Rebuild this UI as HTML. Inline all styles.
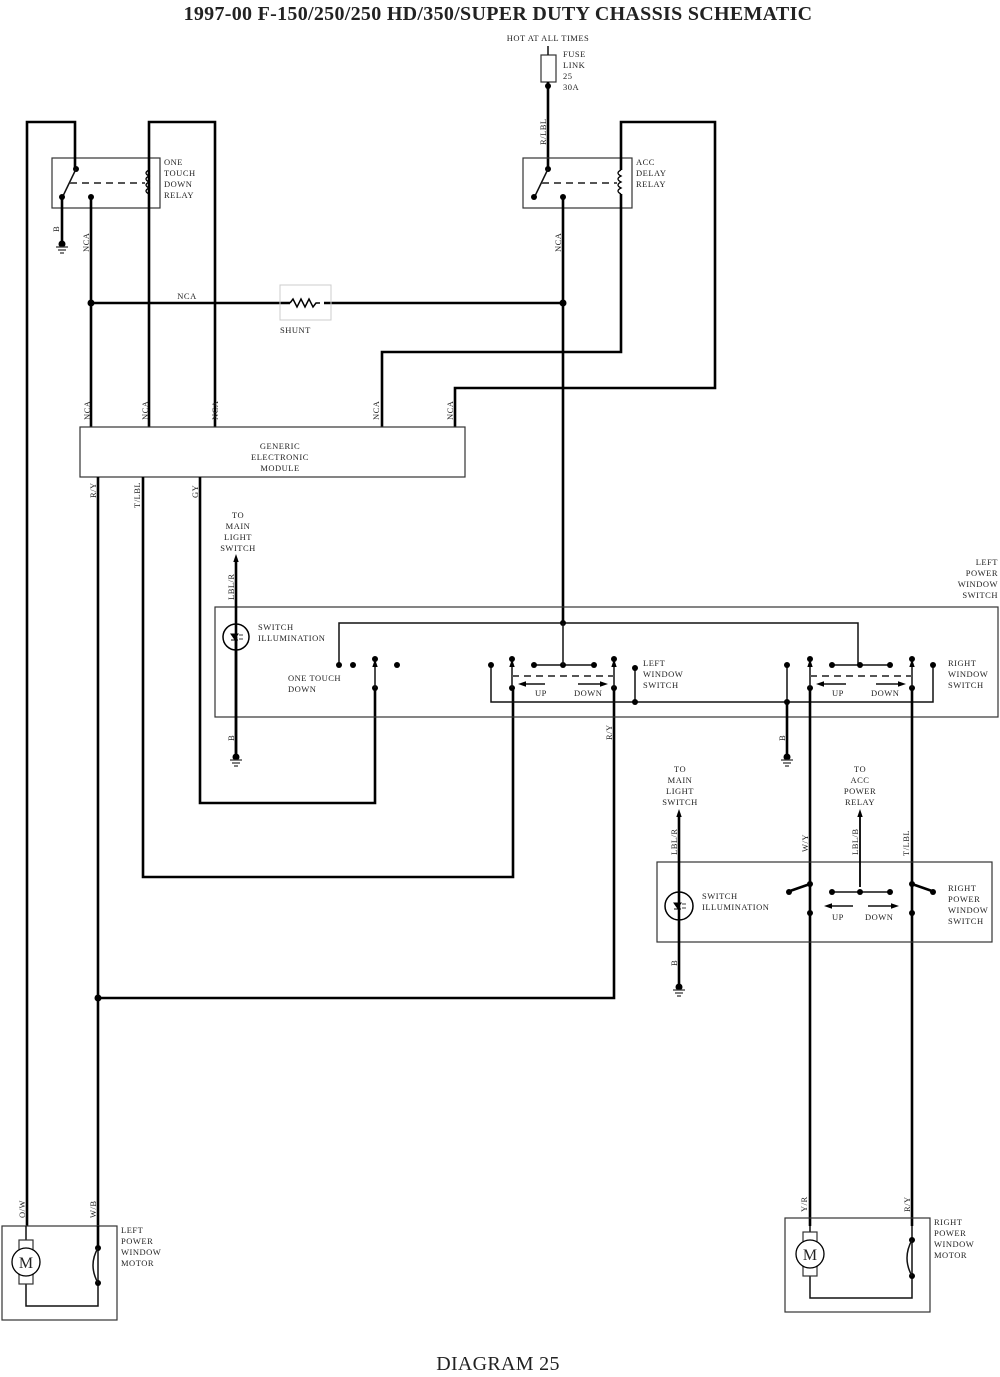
<!DOCTYPE html>
<html><head><meta charset="utf-8"><style>
html,body{margin:0;padding:0;background:#fff}
svg{display:block}
text{font-family:"Liberation Serif",serif;font-size:8.5px;fill:#222;letter-spacing:0.5px}
.w{stroke:#000;stroke-width:2.6;fill:none}
.t{stroke:#111;stroke-width:1.5;fill:none}
.b{stroke:#333;stroke-width:1.2;fill:none}
.d{stroke:#555;stroke-width:2;stroke-dasharray:7,5;fill:none}
</style></head><body>
<svg width="1000" height="1377" viewBox="0 0 1000 1377" xmlns="http://www.w3.org/2000/svg">
<defs>
<marker id="ar" markerUnits="userSpaceOnUse" markerWidth="8" markerHeight="8" refX="4" refY="4" orient="auto"><path d="M0,1.3 L8,4 L0,6.7Z" fill="#000"/></marker>
</defs>
<text x="498" y="20" text-anchor="middle" style="font-size:20px;font-weight:bold;letter-spacing:0.3px">1997-00 F-150/250/250 HD/350/SUPER DUTY CHASSIS SCHEMATIC</text>
<text x="498" y="1370" text-anchor="middle" style="font-size:20px;letter-spacing:0.3px">DIAGRAM 25</text>

<!-- fuse -->
<text x="548" y="41" text-anchor="middle">HOT AT ALL TIMES</text>
<rect x="541" y="55" width="15" height="27" class="b"/>
<line x1="548" y1="46" x2="548" y2="55" class="t"/>
<text x="563" y="57">FUSE</text><text x="563" y="68">LINK</text><text x="563" y="79">25</text><text x="563" y="90">30A</text>
<path d="M548,82 V168" class="w"/><circle cx="548" cy="86" r="3"/>
<text transform="translate(546,145) rotate(-90)">R/LBL</text>

<!-- left relay -->
<rect x="52" y="158" width="108" height="50" class="b"/>
<text x="164" y="165">ONE</text><text x="164" y="176">TOUCH</text><text x="164" y="187">DOWN</text><text x="164" y="198">RELAY</text>
<path d="M27,1226 V122 H75 V168" class="w"/>
<circle cx="76" cy="169" r="3"/><line x1="76" y1="169" x2="63" y2="196" class="t"/>
<circle cx="62" cy="197" r="3"/><circle cx="91" cy="197" r="3"/>
<line x1="70" y1="183" x2="145" y2="183" class="d"/>
<path d="M62,197 V244" class="w"/>
<circle cx="62" cy="244" r="3.5"/><path d="M56,247 H68 M58,250 H66 M60,253 H64" class="b"/>
<text transform="translate(59,232) rotate(-90)">B</text>
<text transform="translate(89,252) rotate(-90)">NCA</text>
<path d="M91,197 V427" class="w"/>
<path d="M149,427 V122 H215 V427" class="w"/>
<path d="M149,170 q-6,3 0,6 q-6,3 0,6 q-6,3 0,6 q-6,3 0,6" stroke="#000" stroke-width="1.3" fill="none"/>

<!-- right relay -->
<rect x="523" y="158" width="109" height="50" class="b"/>
<text x="636" y="165">ACC</text><text x="636" y="176">DELAY</text><text x="636" y="187">RELAY</text>
<circle cx="548" cy="169" r="3"/><line x1="548" y1="169" x2="535" y2="196" class="t"/>
<circle cx="534" cy="197" r="3"/><circle cx="563" cy="197" r="3"/>
<line x1="542" y1="183" x2="617" y2="183" class="d"/>
<path d="M621,170 q-6,3 0,6 q-6,3 0,6 q-6,3 0,6 q-6,3 0,6" stroke="#000" stroke-width="1.3" fill="none"/>
<path d="M621,170 V122 H715 V388 H455 V427" class="w"/>
<path d="M621,194 V352 H382 V427" class="w"/>
<text transform="translate(561,252) rotate(-90)">NCA</text>
<path d="M563,197 V623" class="w"/>

<!-- NCA bus + shunt -->
<path d="M91,303 H290 M324,303 H563" class="w"/>
<circle cx="91" cy="303" r="3.5"/><circle cx="563" cy="303" r="3.5"/>
<text x="187" y="299" text-anchor="middle">NCA</text>
<rect x="280" y="285" width="51" height="35" stroke="#ccc" stroke-width="1" fill="none"/>
<path d="M290,303 l3,-4 l4,8 l4,-8 l4,8 l4,-8 l4,8 l3,-4 h4" stroke="#000" stroke-width="1.5" fill="none"/>
<text x="280" y="333">SHUNT</text>

<!-- module -->
<rect x="80" y="427" width="385" height="50" class="b"/>
<text x="280" y="449" text-anchor="middle">GENERIC</text><text x="280" y="460" text-anchor="middle">ELECTRONIC</text><text x="280" y="471" text-anchor="middle">MODULE</text>
<text transform="translate(90,420) rotate(-90)">NCA</text>
<text transform="translate(148,420) rotate(-90)">NCA</text>
<text transform="translate(218,420) rotate(-90)">NCA</text>
<text transform="translate(379,420) rotate(-90)">NCA</text>
<text transform="translate(453,420) rotate(-90)">NCA</text>
<text transform="translate(96,498) rotate(-90)">R/Y</text>
<text transform="translate(140,508) rotate(-90)">T/LBL</text>
<text transform="translate(198,498) rotate(-90)">GY</text>
<path d="M98,477 V1226" class="w"/>
<path d="M143,477 V877 H513 V690" class="w"/>
<path d="M200,477 V803 H375 V688" class="w"/>
<path d="M614,690 V998 H98" class="w"/><circle cx="98" cy="998" r="3.5"/>
<text transform="translate(612,740) rotate(-90)">R/Y</text>

<!-- left power window switch -->
<text x="998" y="565" text-anchor="end">LEFT</text><text x="998" y="576" text-anchor="end">POWER</text><text x="998" y="587" text-anchor="end">WINDOW</text><text x="998" y="598" text-anchor="end">SWITCH</text>
<rect x="215" y="607" width="783" height="110" class="b"/>
<text x="238" y="518" text-anchor="middle">TO</text><text x="238" y="529" text-anchor="middle">MAIN</text><text x="238" y="540" text-anchor="middle">LIGHT</text><text x="238" y="551" text-anchor="middle">SWITCH</text>
<path d="M236,757 V558" class="w" marker-end="url(#ar)"/>
<text transform="translate(234,600) rotate(-90)">LBL/R</text>
<circle cx="236" cy="637" r="13" fill="#fff" stroke="#000" stroke-width="1.5"/>
<path d="M236,637 V757" class="w"/><path d="M236,624 V650" class="w"/>
<path d="M231,634 h7 l-3.5,5z M231,640 h7" stroke="#000" stroke-width="1" fill="#000"/>
<path d="M239,635 h4 M239,639 h4" stroke="#000" stroke-width="0.8"/>
<circle cx="236" cy="757" r="3.5"/><path d="M230,760 H242 M232,763 H240 M234,766 H238" class="b"/>
<text transform="translate(234,741) rotate(-90)">B</text>
<text x="258" y="630">SWITCH</text><text x="258" y="641">ILLUMINATION</text>
<path d="M339,665 V623 H858 V665" class="t"/>
<circle cx="563" cy="623" r="3"/>
<circle cx="339" cy="665" r="3"/><circle cx="353" cy="665" r="3"/><circle cx="397" cy="665" r="3"/>
<circle cx="375" cy="659" r="3"/><circle cx="375" cy="688" r="3"/><path d="M375,688 V663" class="t" marker-end="url(#ar)"/>
<text x="288" y="681">ONE TOUCH</text><text x="288" y="692">DOWN</text>
<!-- left window switch -->
<path d="M491,665 V702 H933 V665" class="t"/>
<circle cx="491" cy="665" r="3"/><circle cx="933" cy="665" r="3"/>
<circle cx="512" cy="659" r="3"/><circle cx="512" cy="688" r="3"/><path d="M512,688 V663" class="t" marker-end="url(#ar)"/>
<path d="M534,665 H594" class="t"/><circle cx="534" cy="665" r="3"/><circle cx="563" cy="665" r="3"/><circle cx="594" cy="665" r="3"/>
<path d="M563,623 V665" class="t"/>
<circle cx="614" cy="659" r="3"/><circle cx="614" cy="688" r="3"/><path d="M614,688 V663" class="t" marker-end="url(#ar)"/>
<path d="M635,668 V702" class="t"/><circle cx="635" cy="668" r="3"/><circle cx="635" cy="702" r="3"/>
<line x1="512" y1="676" x2="614" y2="676" class="d"/>
<path d="M545,684 H522" class="t" marker-end="url(#ar)"/><path d="M578,684 H604" class="t" marker-end="url(#ar)"/>
<text x="535" y="696">UP</text><text x="574" y="696">DOWN</text>
<text x="643" y="666">LEFT</text><text x="643" y="677">WINDOW</text><text x="643" y="688">SWITCH</text>
<!-- right window switch -->
<path d="M787,665 V702" class="t"/><circle cx="787" cy="665" r="3"/><circle cx="787" cy="702" r="3"/>
<path d="M787,702 V757" class="w"/>
<circle cx="787" cy="757" r="3.5"/><path d="M781,760 H793 M783,763 H791 M785,766 H789" class="b"/>
<text transform="translate(785,741) rotate(-90)">B</text>
<circle cx="810" cy="659" r="3"/><circle cx="810" cy="688" r="3"/><path d="M810,688 V663" class="t" marker-end="url(#ar)"/>
<path d="M832,665 H890" class="t"/><circle cx="832" cy="665" r="3"/><circle cx="860" cy="665" r="3"/><circle cx="890" cy="665" r="3"/>
<circle cx="912" cy="659" r="3"/><circle cx="912" cy="688" r="3"/><path d="M912,688 V663" class="t" marker-end="url(#ar)"/>
<line x1="810" y1="676" x2="912" y2="676" class="d"/>
<path d="M846,684 H820" class="t" marker-end="url(#ar)"/><path d="M876,684 H902" class="t" marker-end="url(#ar)"/>
<text x="832" y="696">UP</text><text x="871" y="696">DOWN</text>
<text x="948" y="666">RIGHT</text><text x="948" y="677">WINDOW</text><text x="948" y="688">SWITCH</text>
<path d="M810,690 V1226" class="w"/><path d="M912,690 V1226" class="w"/>

<!-- right power window switch -->
<rect x="657" y="862" width="335" height="80" class="b"/>
<text x="680" y="772" text-anchor="middle">TO</text><text x="680" y="783" text-anchor="middle">MAIN</text><text x="680" y="794" text-anchor="middle">LIGHT</text><text x="680" y="805" text-anchor="middle">SWITCH</text>
<text x="860" y="772" text-anchor="middle">TO</text><text x="860" y="783" text-anchor="middle">ACC</text><text x="860" y="794" text-anchor="middle">POWER</text><text x="860" y="805" text-anchor="middle">RELAY</text>
<path d="M679,987 V813" class="w" marker-end="url(#ar)"/>
<path d="M860,887 V813" stroke="#000" stroke-width="1.8" fill="none" marker-end="url(#ar)"/>
<text transform="translate(677,855) rotate(-90)">LBL/R</text>
<text transform="translate(808,852) rotate(-90)">W/Y</text>
<text transform="translate(858,855) rotate(-90)">LBL/B</text>
<text transform="translate(909,856) rotate(-90)">T/LBL</text>
<circle cx="679" cy="906" r="14" fill="#fff" stroke="#000" stroke-width="1.5"/>
<path d="M679,892 V920" class="w"/>
<path d="M674,903 h7 l-3.5,5z M674,909 h7" stroke="#000" stroke-width="1" fill="#000"/>
<path d="M682,904 h4 M682,908 h4" stroke="#000" stroke-width="0.8"/>
<circle cx="679" cy="987" r="3.5"/><path d="M673,990 H685 M675,993 H683 M677,996 H681" class="b"/>
<text transform="translate(677,966) rotate(-90)">B</text>
<text x="702" y="899">SWITCH</text><text x="702" y="910">ILLUMINATION</text>
<circle cx="810" cy="884" r="3"/><line x1="810" y1="884" x2="790" y2="891" class="w"/><circle cx="789" cy="892" r="3"/>
<circle cx="810" cy="913" r="3"/>
<path d="M832,892 H890" class="t"/><circle cx="832" cy="892" r="3"/><circle cx="860" cy="892" r="3"/><circle cx="890" cy="892" r="3"/>
<circle cx="912" cy="884" r="3"/><line x1="912" y1="884" x2="932" y2="891" class="w"/><circle cx="933" cy="892" r="3"/>
<circle cx="912" cy="913" r="3"/>
<path d="M853,906 H828" stroke="#333" stroke-width="1.8" fill="none" marker-end="url(#ar)"/><path d="M868,906 H895" stroke="#333" stroke-width="1.8" fill="none" marker-end="url(#ar)"/>
<text x="832" y="920">UP</text><text x="865" y="920">DOWN</text>
<text x="948" y="891">RIGHT</text><text x="948" y="902">POWER</text><text x="948" y="913">WINDOW</text><text x="948" y="924">SWITCH</text>

<!-- left motor -->
<rect x="2" y="1226" width="115" height="94" class="b"/>
<text transform="translate(25,1218) rotate(-90)">O/W</text>
<text transform="translate(96,1218) rotate(-90)">W/B</text>
<text x="121" y="1233">LEFT</text><text x="121" y="1244">POWER</text><text x="121" y="1255">WINDOW</text><text x="121" y="1266">MOTOR</text>
<path d="M26,1226 V1240 M26,1284 V1306 H98 V1226" class="t"/>
<rect x="19" y="1240" width="14" height="10" class="b"/><rect x="19" y="1274" width="14" height="10" class="b"/>
<circle cx="26" cy="1262" r="14" fill="#fff" stroke="#000" stroke-width="1.3"/>
<text x="26" y="1268" text-anchor="middle" style="font-size:16px;letter-spacing:0">M</text>
<circle cx="98" cy="1248" r="3"/><circle cx="98" cy="1283" r="3"/>
<path d="M98,1248 Q88,1265 98,1283" class="t"/>
<path d="M98,1226 V1248" class="w"/>

<!-- right motor -->
<rect x="785" y="1218" width="145" height="94" class="b"/>
<text transform="translate(807,1212) rotate(-90)">Y/R</text>
<text transform="translate(910,1212) rotate(-90)">R/Y</text>
<text x="934" y="1225">RIGHT</text><text x="934" y="1236">POWER</text><text x="934" y="1247">WINDOW</text><text x="934" y="1258">MOTOR</text>
<path d="M810,1226 V1232 M810,1276 V1298 H912 V1226" class="t"/>
<rect x="803" y="1232" width="14" height="10" class="b"/><rect x="803" y="1266" width="14" height="10" class="b"/>
<circle cx="810" cy="1254" r="14" fill="#fff" stroke="#000" stroke-width="1.3"/>
<text x="810" y="1260" text-anchor="middle" style="font-size:16px;letter-spacing:0">M</text>
<circle cx="912" cy="1240" r="3"/><circle cx="912" cy="1276" r="3"/>
<path d="M912,1240 Q902,1258 912,1276" class="t"/>
</svg>
</body></html>
